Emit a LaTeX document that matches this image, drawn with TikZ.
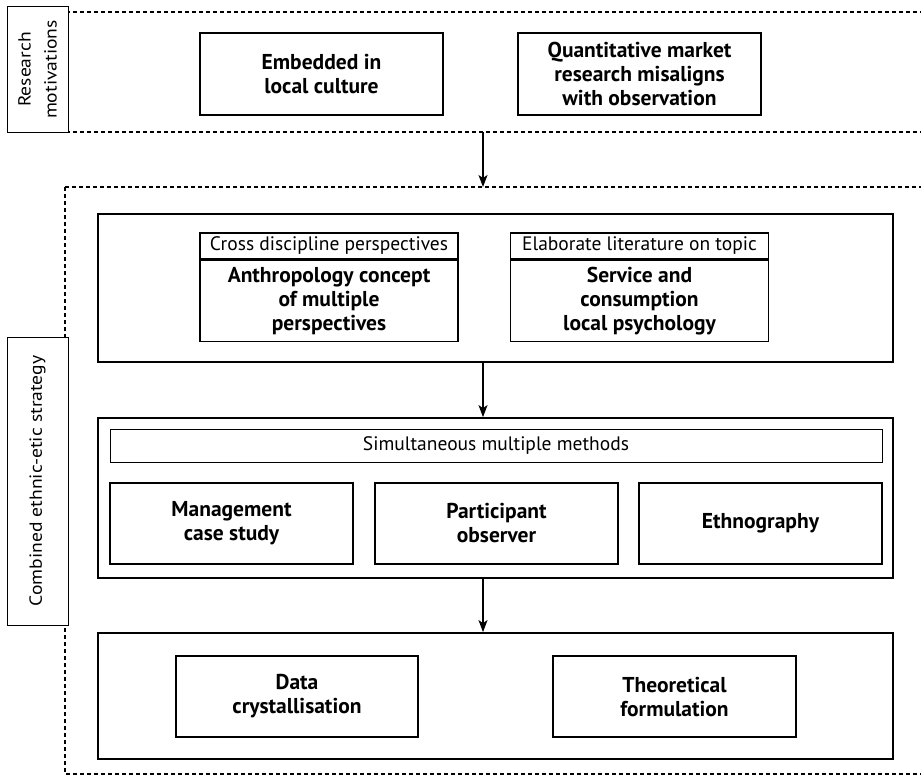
\documentclass[tikz,border=0pt]{standalone}
\usepackage{fontspec}
\setmainfont{PT Sans}
\newfontfamily\sidefont[FakeStretch=1.12]{PT Sans}
\usetikzlibrary{arrows.meta}
\begin{document}
\begin{tikzpicture}[x=1pt,y=-1pt,
  bx/.style={draw, line width=1.4pt, align=center, inner sep=2pt, font=\fontsize{21.5}{24}\selectfont\bfseries},
  hd/.style={draw, line width=1.2pt, align=center, inner sep=1pt, font=\fontsize{19.5}{22}\selectfont},
  outer/.style={draw, line width=1.8pt},
  side/.style={draw, line width=1pt, fill=white},
  dsh/.style={line width=1.3pt, dash pattern=on 4pt off 3pt},
  arr/.style={line width=1.2pt, -{Stealth[length=12pt,width=9pt,inset=3pt]}}]
\useasboundingbox (0,0) rectangle (923,776);
% Top dashed region
\coordinate (t1) at (66,12);
\coordinate (t2) at (921,12);
\coordinate (b1) at (66,132);
\coordinate (b2) at (921,132);
\coordinate (ab) at (483,132);
\draw[dsh] (t1) -- (t2);
\draw[dsh] (b1) -- (b2);
\node[side, minimum width=61pt, minimum height=125pt] (rm) at (37.5,69.5) {};
\node[rotate=90, align=center, font=\sidefont\fontsize{17.5}{26}\selectfont] (rmt) at (rm.center) {Research\\motivations};
\node[bx, minimum width=243pt, minimum height=82pt] (emb) at (321.5,74) {Embedded in\\local culture};
\node[bx, minimum width=243pt, minimum height=82pt] (qmr) at (639.5,74) {Quantitative market\\research misaligns\\with observation};
% Second dashed region
\coordinate (s1) at (65,187);
\coordinate (s2) at (921,187);
\coordinate (sa) at (483,187);
\coordinate (s3) at (65,774);
\coordinate (s4) at (921,774);
\draw[dsh] (s1) -- (s2);
\draw[dsh] (s1) -- (s3) -- (s4);
\node[side, minimum width=61pt, minimum height=288pt] (ce) at (37.5,481) {};
\node[rotate=90, font=\sidefont\fontsize{17.5}{22}\selectfont] (cet) at (ce.center) {Combined ethnic-etic strategy};
\draw[arr] (ab) -- (sa);
% Box 1
\node[outer, minimum width=795pt, minimum height=148pt] (box1) at (495.5,288) {};
\node[hd, minimum width=258pt, minimum height=26pt] (cdh) at (329,246) {Cross discipline perspectives};
\node[bx, minimum width=258pt, minimum height=81pt, anchor=north] (cdb) at (cdh.south) {Anthropology concept\\of multiple\\perspectives};
\node[hd, minimum width=258pt, minimum height=26pt] (elh) at (639.5,246) {Elaborate literature on topic};
\node[bx, minimum width=258pt, minimum height=81pt, anchor=north] (elb) at (elh.south) {Service and\\consumption\\local psychology};
% Box 2
\node[outer, minimum width=795pt, minimum height=160pt] (box2) at (495.5,498) {};
\node[hd, line width=1pt, minimum width=772pt, minimum height=33pt] (smm) at (496,445.5) {Simultaneous multiple methods};
\node[bx, minimum width=243pt, minimum height=81pt] (mcs) at (231.5,523.5) {Management\\case study};
\node[bx, minimum width=243pt, minimum height=81pt] (pob) at (496.5,523.5) {Participant\\observer};
\node[bx, minimum width=243pt, minimum height=81pt] (eth) at (760.5,523.5) {Ethnography};
% Box 3
\node[outer, minimum width=795pt, minimum height=126pt] (box3) at (495.5,696) {};
\node[bx, minimum width=242pt, minimum height=81pt] (dcr) at (297,696.5) {Data\\crystallisation};
\node[bx, minimum width=243pt, minimum height=81pt] (tfo) at (674.5,696.5) {Theoretical\\formulation};
% Arrows
\draw[arr] (box1.south -| sa) -- (box2.north -| sa);
\draw[arr] (box2.south -| sa) -- (box3.north -| sa);
\end{tikzpicture}
\end{document}
